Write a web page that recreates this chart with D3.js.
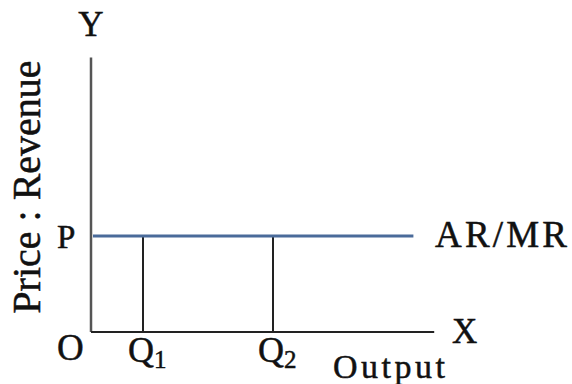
<!DOCTYPE html>
<html lang="en">
<head>
    <meta charset="UTF-8">
    <title>Perfect Competition AR/MR</title>
    <script src="https://d3js.org/d3.v7.min.js"></script>
    <style>
        body { margin: 0; background: #fff; }
        text { font-family: "Liberation Serif", "Times New Roman", serif; fill: #111; stroke: #111; stroke-width: 0.5px; }
    </style>
</head>
<body>
    <div id="chart-container"></div>
    <script>
        // data
        const quantities = [2, 7];
        const quantityLabels = ["1", "2"];
        const price = 5;
        const demandEnd = 12.4;
        const xMax = 13.2;
        const yMax = 14.3;

        const containerWidth = 572;
        const containerHeight = 384;
        const origin = { x: 91, y: 332 };

        const svg = d3.select("#chart-container")
            .append("svg")
            .attr("width", containerWidth)
            .attr("height", containerHeight);

        const x = d3.scaleLinear().domain([0, xMax]).range([origin.x, origin.x + 26 * xMax]);
        const y = d3.scaleLinear().domain([0, yMax]).range([origin.y, origin.y - 19.2 * yMax]);

        // axes
        svg.append("line")
            .attr("x1", x(0)).attr("x2", x(0))
            .attr("y1", y(0)).attr("y2", y(yMax))
            .attr("stroke", "#555").attr("stroke-width", 2.5);
        svg.append("line")
            .attr("x1", x(0)).attr("x2", x(xMax))
            .attr("y1", y(0)).attr("y2", y(0))
            .attr("stroke", "#222").attr("stroke-width", 2);

        // drop lines
        svg.selectAll(".drop")
            .data(quantities)
            .enter()
            .append("line")
            .attr("class", "drop")
            .attr("x1", d => x(d)).attr("x2", d => x(d))
            .attr("y1", y(0)).attr("y2", y(price))
            .attr("stroke", "#222").attr("stroke-width", 2);

        // AR/MR line
        svg.append("line")
            .attr("x1", x(0) + 2).attr("x2", x(demandEnd))
            .attr("y1", y(price)).attr("y2", y(price))
            .attr("stroke", "#4a6b9a").attr("stroke-width", 3);

        // labels
        svg.append("text")
            .attr("x", x(0)).attr("y", 36)
            .attr("text-anchor", "middle")
            .style("font-size", "35px")
            .text("Y");

        svg.append("text")
            .attr("transform", `translate(40, 187) rotate(-90)`)
            .attr("text-anchor", "middle")
            .style("font-size", "40px")
            .text("Price : Revenue");

        svg.append("text")
            .attr("x", 57).attr("y", y(price) + 12)
            .style("font-size", "33px")
            .text("P");

        svg.append("text")
            .attr("x", 435).attr("y", y(price) + 11)
            .style("font-size", "37px")
            .attr("textLength", 132)
            .text("AR/MR");

        svg.append("text")
            .attr("x", 57).attr("y", 360)
            .style("font-size", "37px")
            .text("O");

        const qLabels = svg.selectAll(".qlabel")
            .data(quantities)
            .enter()
            .append("text")
            .attr("class", "qlabel")
            .attr("x", d => x(d) - 15)
            .attr("y", 362)
            .style("font-size", "36px");
        qLabels.append("tspan").text("Q");
        qLabels.append("tspan")
            .attr("dy", 6)
            .style("font-size", "25px")
            .text((d, i) => quantityLabels[i]);

        svg.append("text")
            .attr("x", 452).attr("y", 343)
            .style("font-size", "35px")
            .text("X");

        svg.append("text")
            .attr("x", 333).attr("y", 378)
            .style("font-size", "34px")
            .attr("textLength", 112)
            .text("Output");
    </script>
</body>
</html>
